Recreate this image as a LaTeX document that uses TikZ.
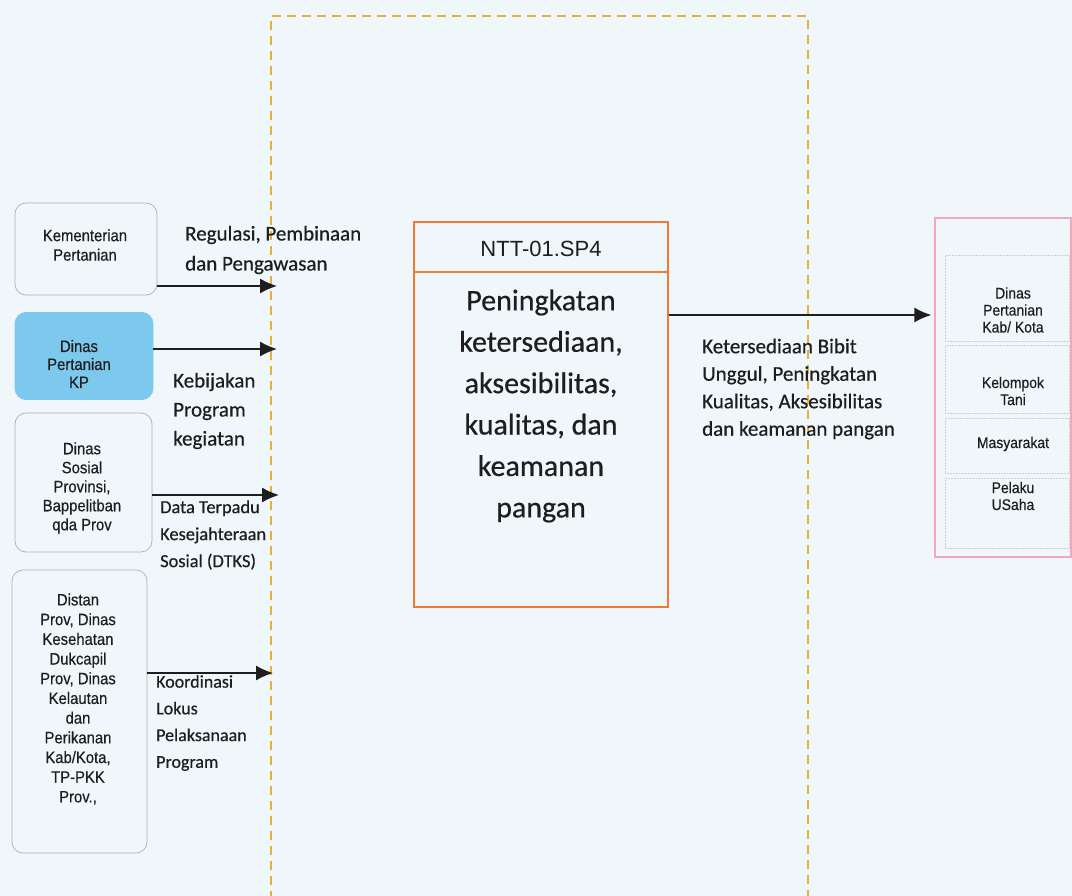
\documentclass[tikz,border=0pt]{standalone}
\usepackage{fontspec}
\setmainfont{Carlito}[FakeBold=0.5]
\newfontfamily\arialf{Liberation Sans}[FakeStretch=0.9, FakeBold=0.4]
\newfontfamily\arialw{Liberation Sans}
\usetikzlibrary{arrows.meta}

\definecolor{paper}{RGB}{239,247,251}
\definecolor{dashgold}{RGB}{228,178,60}
\definecolor{progorange}{RGB}{240,122,52}
\definecolor{tgtpink}{RGB}{242,168,186}
\definecolor{kpblue}{RGB}{125,201,238}
\definecolor{softgray}{RGB}{175,175,175}
\definecolor{ink}{RGB}{30,30,30}

\tikzset{
  srcbox/.style={draw=softgray, line width=0.7pt, rounded corners=11pt, inner sep=0pt},
  tgtbox/.style={draw=softgray!60, line width=0.5pt, densely dotted, inner sep=0pt},
  srctext/.style={font=\arialf\fontsize{16.5}{19.5}\selectfont, align=center, text=ink, inner sep=0pt},
  tgttext/.style={font=\arialf\fontsize{15.5}{17}\selectfont, align=center, text=ink, inner sep=0pt},
  flowlbl/.style={align=left, anchor=west, text=ink, inner sep=0pt},
  arr/.style={line width=1.4pt, draw=ink, -{Latex[length=17pt,width=15pt]}},
}

\begin{document}
\begin{tikzpicture}[x=1pt,y=-1pt]
  \useasboundingbox (0,0) rectangle (1072,896);
  \fill[paper] (0,0) rectangle (1072,896);
  \clip (0,0) rectangle (1072,896);

  % programme scope (dashed frame, open at the bottom)
  \draw[dashgold, line width=1.2pt, dash pattern=on 9pt off 6pt]
    (271,900) -- (271,16) -- (808,16) -- (808,900);

  % source institutions
  \node[srcbox, minimum width=142pt, minimum height=92pt] (kem) at (86,249) {};
  \node[srctext] (kemT) at (85,245) {Kementerian\\Pertanian};

  \node[srcbox, fill=kpblue, draw=kpblue, minimum width=138pt, minimum height=87pt] (kp) at (84,356) {};
  \node[srctext, font=\arialf\fontsize{16.5}{18}\selectfont] (kpT) at (79,364) {Dinas\\Pertanian\\KP};

  \node[srcbox, minimum width=137pt, minimum height=139pt] (sos) at (83.5,482.5) {};
  \node[srctext, font=\arialf\fontsize{16.5}{19}\selectfont] (sosT) at (82,488) {Dinas\\Sosial\\Provinsi,\\Bappelitban\\qda Prov};

  \node[srcbox, minimum width=135pt, minimum height=283pt] (dist) at (79.5,711.5) {};
  \node[srctext, font=\arialf\fontsize{16.5}{19.7}\selectfont] (distT) at (78,699) {Distan\\Prov, Dinas\\Kesehatan\\Dukcapil\\Prov, Dinas\\Kelautan\\dan\\Perikanan\\Kab/Kota,\\TP-PKK\\Prov.,};

  % arrow ends on the dashed frame
  \coordinate (in1) at (277,286);
  \coordinate (in2) at (277,349);
  \coordinate (in3) at (279,495);
  \coordinate (in4) at (273,673);
  \draw[arr] (kem.east |- in1) -- (in1);
  \draw[arr] (kp.east |- in2) -- (in2);
  \draw[arr] (sos.east |- in3) -- (in3);
  \draw[arr] (dist.east |- in4) -- (in4);

  % flow labels
  \node[flowlbl, font=\fontsize{21}{30}\selectfont] (regL) at (185,250) {Regulasi, Pembinaan\\dan Pengawasan};
  \node[flowlbl, font=\fontsize{21}{29}\selectfont] (kebL) at (173,411) {Kebijakan\\Program\\kegiatan};
  \node[flowlbl, font=\fontsize{18.4}{27}\selectfont] (dtksL) at (160,535) {Data Terpadu\\Kesejahteraan\\Sosial (DTKS)};
  \node[flowlbl, font=\fontsize{18}{26.7}\selectfont] (korL) at (156,723) {Koordinasi\\Lokus\\Pelaksanaan\\Program};

  % programme box
  \node[draw=progorange, line width=2pt, minimum width=254pt, minimum height=385pt, inner sep=0pt] (sp) at (540.5,414.5) {};
  \draw[progorange, line width=2pt] (sp.west |- 0,272) -- (sp.east |- 0,272);
  \node[font=\arialw\fontsize{22}{26}\selectfont, text=ink, inner sep=0pt] (hdr) at (541,249) {NTT-01.SP4};
  \node[font=\fontsize{30}{41.4}\selectfont, align=center, text=ink, inner sep=0pt] (body) at (541,406)
    {Peningkatan\\ketersediaan,\\aksesibilitas,\\kualitas, dan\\keamanan\\pangan};

  % beneficiaries
  \node[draw=tgtpink, line width=1.4pt, minimum width=136pt, minimum height=339pt, inner sep=0pt] (tgt) at (1003,387.5) {};
  \node[tgtbox, minimum width=124pt, minimum height=86pt] (t1) at (1007,298) {};
  \node[tgtbox, minimum width=124pt, minimum height=68pt] (t2) at (1007,379) {};
  \node[tgtbox, minimum width=124pt, minimum height=55pt] (t3) at (1007,445.5) {};
  \node[tgtbox, minimum width=124pt, minimum height=70pt] (t4) at (1007,513) {};
  \node[tgttext] (t1T) at (1013,310) {Dinas\\Pertanian\\Kab/ Kota};
  \node[tgttext] (t2T) at (1013,391) {Kelompok\\Tani};
  \node[tgttext] (t3T) at (1013,444) {Masyarakat};
  \node[tgttext] (t4T) at (1013,496) {Pelaku\\USaha};

  % output flow
  \coordinate (o1) at (0,315);
  \draw[arr, shorten >=3pt] (sp.east |- o1) -- (tgt.west |- o1);
  \node[flowlbl, font=\fontsize{21}{27.5}\selectfont] (ketL) at (702,389)
    {Ketersediaan Bibit\\Unggul, Peningkatan\\Kualitas, Aksesibilitas\\dan keamanan pangan};
\end{tikzpicture}
\end{document}
